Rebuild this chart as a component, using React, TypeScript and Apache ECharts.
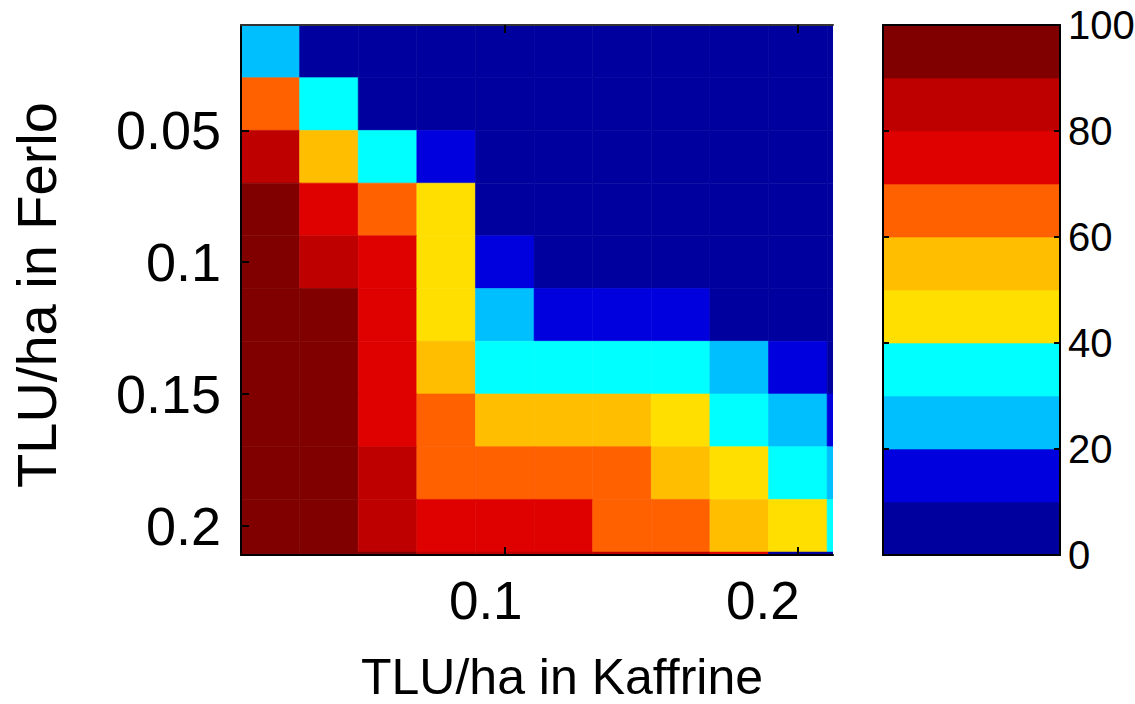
import React, { useEffect, useRef } from "react";
import * as echarts from "echarts";

// Cell centres (TLU/ha)
const kaffrineValues = [0.02, 0.04, 0.06, 0.08, 0.1, 0.12, 0.14, 0.16, 0.18, 0.2, 0.22];
const ferloValues = [0.02, 0.04, 0.06, 0.08, 0.1, 0.12, 0.14, 0.16, 0.18, 0.2, 0.22];

// Rows: Ferlo (top -> bottom), columns: Kaffrine (left -> right)
const row002 = [24, 4, 2, 1, 1, 1, 0, 0, 0, 0, 0];
const row004 = [65, 36, 6, 3, 2, 1, 1, 0, 0, 0, 0];
const row006 = [84, 55, 34, 13, 6, 3, 2, 1, 1, 0, 0];
const row008 = [95, 76, 64, 44, 8, 5, 3, 2, 1, 1, 0];
const row010 = [97, 86, 74, 46, 15, 8, 5, 4, 3, 2, 1];
const row012 = [98, 93, 76, 47, 26, 16, 13, 11, 8, 6, 4];
const row014 = [99, 96, 78, 54, 37, 35, 33, 31, 25, 16, 9];
const row016 = [99, 97, 79, 63, 56, 54, 53, 47, 38, 27, 18];
const row018 = [99, 98, 84, 68, 66, 64, 62, 57, 46, 36, 26];
const row020 = [100, 98, 86, 76, 74, 72, 67, 64, 56, 45, 34];
const row022 = [100, 99, 90, 86, 85, 84, 83, 82, 77, 5, 3];
const heatRows = [row002, row004, row006, row008, row010, row012, row014, row016, row018, row020, row022];

const xTickValues = [0.1, 0.2];
const yTickValues = [0.05, 0.1, 0.15, 0.2];
const colorbarTickValues = [0, 20, 40, 60, 80, 100];
const levelEdges = [0, 10, 20, 30, 40, 50, 60, 70, 80, 90, 100];
const levelColors = [
  "#00009F", "#0000DF", "#00BFFF", "#00FFFF", "#FFDF00",
  "#FFBF00", "#FF6000", "#DF0000", "#BF0000", "#800000",
];

const xAxisTitle = "TLU/ha in Kaffrine";
const yAxisTitle = "TLU/ha in Ferlo";

const FONT = "Liberation Sans";
// leftward offsets (px) of the x tick labels, as in the reference export
const xLabelShift = [19, 35];

export default function App() {
  const ref = useRef<HTMLDivElement>(null);

  useEffect(() => {
    if (!ref.current) return;
    const chart = echarts.init(ref.current, null, { renderer: "svg" });

    const cell = kaffrineValues[1] - kaffrineValues[0];
    const heatData: number[][] = [];
    heatRows.forEach((row, ri) => {
      row.forEach((v, ci) => {
        heatData.push([kaffrineValues[ci], ferloValues[ri], v]);
      });
    });

    const barData = levelEdges.slice(0, -1).map((lo, i) => {
      const hi = levelEdges[i + 1];
      return [lo, hi, (lo + hi) / 2];
    });

    const pieces = levelColors.map((c, i) =>
      i === levelColors.length - 1
        ? { gte: levelEdges[i], lte: levelEdges[i + 1], color: c }
        : { gte: levelEdges[i], lt: levelEdges[i + 1], color: c }
    );

    const xMin = 0.01, xMax = 0.212;
    const yMin = 0.01, yMax = 0.2111;

    const tickStyle = { show: true, inside: true, length: 8, lineStyle: { color: "#000", width: 2 } };

    const xRich: any = {};
    xLabelShift.forEach((s, i) => {
      xRich["s" + i] = { fontSize: 53, fontFamily: FONT, color: "#000", padding: [0, 2 * s, 0, 0] };
    });

    const option: any = {
      animation: false,
      backgroundColor: "#fff",
      grid: [
        { left: 241, top: 25, width: 592, height: 530, containLabel: false, outerBoundsMode: "none" },
        { left: 883, top: 25, width: 177, height: 530, containLabel: false, outerBoundsMode: "none" },
      ],
      visualMap: {
        type: "piecewise",
        show: false,
        dimension: 2,
        seriesIndex: [0, 1],
        pieces,
      },
      xAxis: [
        {
          gridIndex: 0, type: "value", position: "bottom", min: xMin, max: xMax, z: 5,
          axisLine: { show: true, onZero: false, lineStyle: { color: "#000", width: 2 } },
          axisTick: { ...tickStyle, customValues: xTickValues },
          axisLabel: {
            customValues: xTickValues, fontSize: 53, fontFamily: FONT, color: "#000", margin: 19,
            formatter: (v: number) => {
              const i = xTickValues.indexOf(v);
              return i >= 0 ? "{s" + i + "|" + String(v) + "}" : String(v);
            },
            rich: xRich,
          },
          splitLine: { show: false },
          name: xAxisTitle, nameLocation: "middle", nameGap: 99,
          nameTextStyle: { fontSize: 50, lineHeight: 46, fontFamily: FONT, color: "#000", padding: [0, 0, 0, 50] },
        },
        {
          gridIndex: 0, type: "value", position: "top", min: xMin, max: xMax, z: 5,
          axisLine: { show: true, onZero: false, lineStyle: { color: "#333", width: 2 } },
          axisTick: { ...tickStyle, customValues: xTickValues },
          axisLabel: { show: false },
          splitLine: { show: false },
        },
        {
          gridIndex: 1, type: "value", position: "bottom", min: 0, max: 1, z: 5,
          axisLine: { show: true, onZero: false, lineStyle: { color: "#000", width: 2 } },
          axisTick: { show: false }, axisLabel: { show: false }, splitLine: { show: false },
        },
        {
          gridIndex: 1, type: "value", position: "top", min: 0, max: 1, z: 5,
          axisLine: { show: true, onZero: false, lineStyle: { color: "#000", width: 2 } },
          axisTick: { show: false }, axisLabel: { show: false }, splitLine: { show: false },
        },
      ],
      yAxis: [
        {
          gridIndex: 0, type: "value", position: "left", min: yMin, max: yMax, inverse: true, z: 5,
          axisLine: { show: true, onZero: false, lineStyle: { color: "#000", width: 2 } },
          axisTick: { ...tickStyle, customValues: yTickValues },
          axisLabel: {
            customValues: yTickValues, fontSize: 54, fontFamily: FONT, color: "#000", margin: 20,
            formatter: (v: number) => String(v),
          },
          splitLine: { show: false },
          name: yAxisTitle, nameLocation: "middle", nameGap: 177,
          nameTextStyle: { fontSize: 56, fontFamily: FONT, color: "#000", padding: [0, 10, 0, 0] },
        },
        {
          gridIndex: 1, type: "value", position: "right", min: 0, max: 100, interval: 20, z: 5,
          axisLine: { show: true, onZero: false, lineStyle: { color: "#000", width: 2 } },
          axisTick: { show: true, inside: true, length: 6, lineStyle: { color: "#000", width: 2 }, customValues: colorbarTickValues },
          axisLabel: { customValues: colorbarTickValues, fontSize: 40, fontFamily: FONT, color: "#000", margin: 8 },
          splitLine: { show: false },
        },
        {
          gridIndex: 1, type: "value", position: "left", min: 0, max: 100, interval: 20, z: 5,
          axisLine: { show: true, onZero: false, lineStyle: { color: "#000", width: 2 } },
          axisTick: { show: true, inside: true, length: 6, lineStyle: { color: "#000", width: 2 }, customValues: colorbarTickValues },
          axisLabel: { show: false },
          splitLine: { show: false },
        },
      ],
      series: [
        {
          type: "custom",
          xAxisIndex: 0,
          yAxisIndex: 0,
          clip: true,
          z: 1,
          data: heatData,
          renderItem: (params: any, api: any) => {
            const x = api.value(0);
            const y = api.value(1);
            const a = api.coord([x - cell / 2, y - cell / 2]);
            const b = api.coord([x + cell / 2, y + cell / 2]);
            const color = api.visual("color");
            return {
              type: "rect",
              shape: {
                x: Math.min(a[0], b[0]),
                y: Math.min(a[1], b[1]),
                width: Math.abs(b[0] - a[0]),
                height: Math.abs(b[1] - a[1]),
              },
              style: { fill: color, stroke: color, lineWidth: 0.6 },
            };
          },
        },
        {
          type: "custom",
          xAxisIndex: 2,
          yAxisIndex: 1,
          clip: true,
          z: 1,
          data: barData,
          renderItem: (params: any, api: any) => {
            const lo = api.value(0);
            const hi = api.value(1);
            const a = api.coord([0, lo]);
            const b = api.coord([1, hi]);
            const color = api.visual("color");
            return {
              type: "rect",
              shape: {
                x: Math.min(a[0], b[0]),
                y: Math.min(a[1], b[1]),
                width: Math.abs(b[0] - a[0]),
                height: Math.abs(b[1] - a[1]),
              },
              style: { fill: color, stroke: color, lineWidth: 0.6 },
            };
          },
          encode: { x: -1, y: [0, 1] },
        },
      ],
    };

    chart.setOption(option);
    return () => chart.dispose();
  }, []);

  return (
    <div
      ref={ref}
      style={{ position: "absolute", left: 0, top: 0, width: 1135, height: 704 }}
    />
  );
}
